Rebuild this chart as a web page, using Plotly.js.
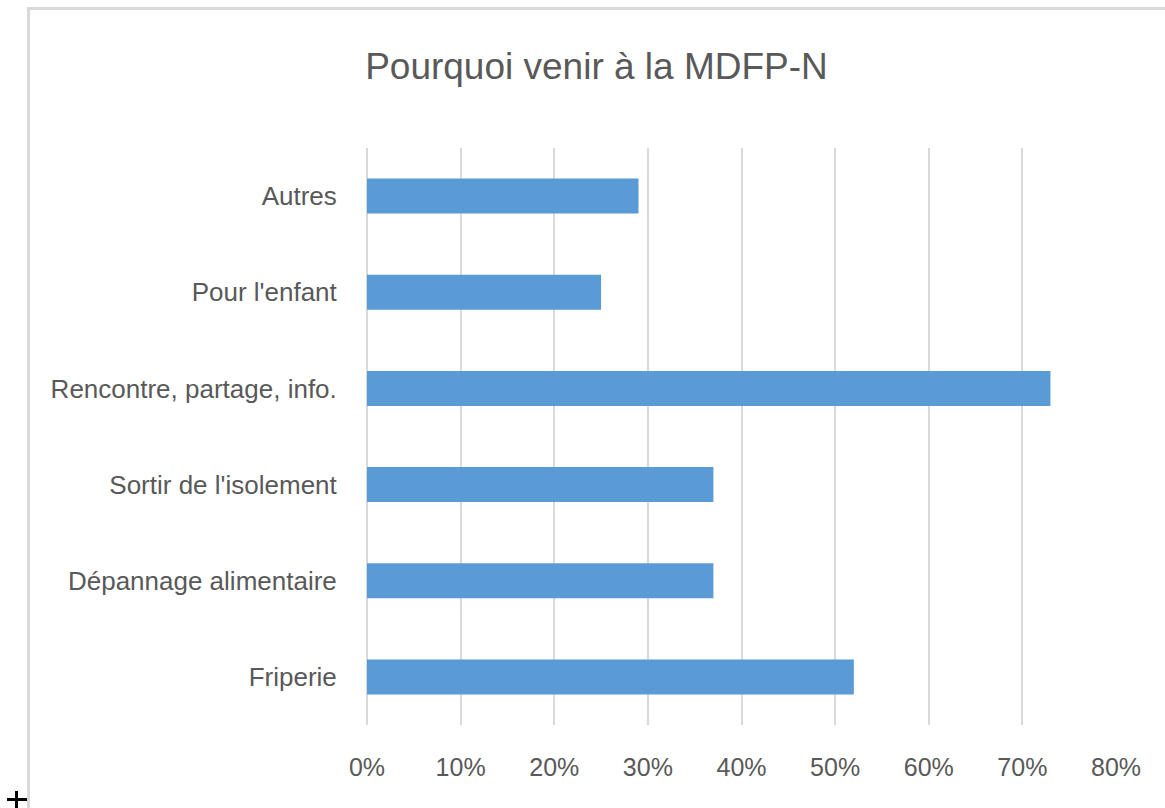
<!DOCTYPE html>
<html>
<head>
<meta charset="utf-8">
<script src="https://cdn.plot.ly/plotly-3.0.1.min.js"></script>
<style>
  html, body { margin: 0; padding: 0; background: #ffffff; overflow: hidden; }
  #chart { position: absolute; left: 0; top: 0; width: 1165px; height: 808px; }
  #frame { position: absolute; left: 27px; top: 7px; width: 1138px; height: 801px;
           border-top: 3px solid #d9d9d9; border-left: 3px solid #d9d9d9; pointer-events: none; box-sizing: border-box; }
  #clip { position: absolute; left: 40px; top: 777px; width: 1125px; height: 31px; background: #ffffff; pointer-events: none; }
  .cur { position: absolute; background: #000; pointer-events: none; }
</style>
</head>
<body>
<div id="chart"></div>
<div id="clip"></div>
<div id="frame"></div>
<div class="cur" style="left:7px; top:798px; width:20px; height:3px;"></div>
<div class="cur" style="left:15px; top:791px; width:3px; height:17px;"></div>
<script>
// Data (bottom to top, as drawn)
const categories = ["Friperie", "Dépannage alimentaire", "Sortir de l'isolement", "Rencontre, partage, info.", "Pour l'enfant", "Autres"];
const values = [0.52, 0.37, 0.37, 0.73, 0.25, 0.29];
const tickValues = [0, 0.1, 0.2, 0.3, 0.4, 0.5, 0.6, 0.7, 0.8];
const tickLabels = ["0%", "10%", "20%", "30%", "40%", "50%", "60%", "70%", "80%"];
const chartTitle = "Pourquoi venir à la MDFP-N";

const FONT = '"Liberation Sans", Arial, sans-serif';

const trace = {
  type: 'bar',
  orientation: 'h',
  x: values,
  y: categories,
  marker: { color: '#5b9bd5' },
  hoverinfo: 'x+y'
};

const layout = {
  width: 1165,
  height: 808,
  margin: { l: 367, r: 49, t: 148, b: 83, pad: 0 },
  paper_bgcolor: 'rgba(0,0,0,0)',
  plot_bgcolor: 'rgba(0,0,0,0)',
  showlegend: false,
  bargap: 0.636,
  title: {
    text: chartTitle,
    font: { family: FONT, size: 37, color: '#595959' },
    xref: 'container', yref: 'container',
    x: 0.512, xanchor: 'center',
    y: 0.918, yanchor: 'middle'
  },
  xaxis: {
    range: [0, 0.8],
    tickvals: tickValues,
    ticktext: tickLabels,
    showgrid: true,
    gridcolor: '#d9d9d9',
    gridwidth: 2,
    zeroline: true,
    zerolinecolor: '#d9d9d9',
    zerolinewidth: 2,
    showline: false,
    ticks: 'outside',
    ticklen: 20,
    tickcolor: 'rgba(0,0,0,0)',
    tickfont: { family: FONT, size: 25, color: '#595959' },
    fixedrange: true
  },
  yaxis: {
    type: 'category',
    categoryorder: 'array',
    categoryarray: categories,
    showgrid: false,
    zeroline: false,
    showline: false,
    ticks: 'outside',
    ticklen: 24,
    tickcolor: 'rgba(0,0,0,0)',
    tickfont: { family: FONT, size: 26, color: '#595959' },
    fixedrange: true
  }
};

Plotly.newPlot('chart', [trace], layout, { displayModeBar: false, staticPlot: true });
</script>
</body>
</html>
